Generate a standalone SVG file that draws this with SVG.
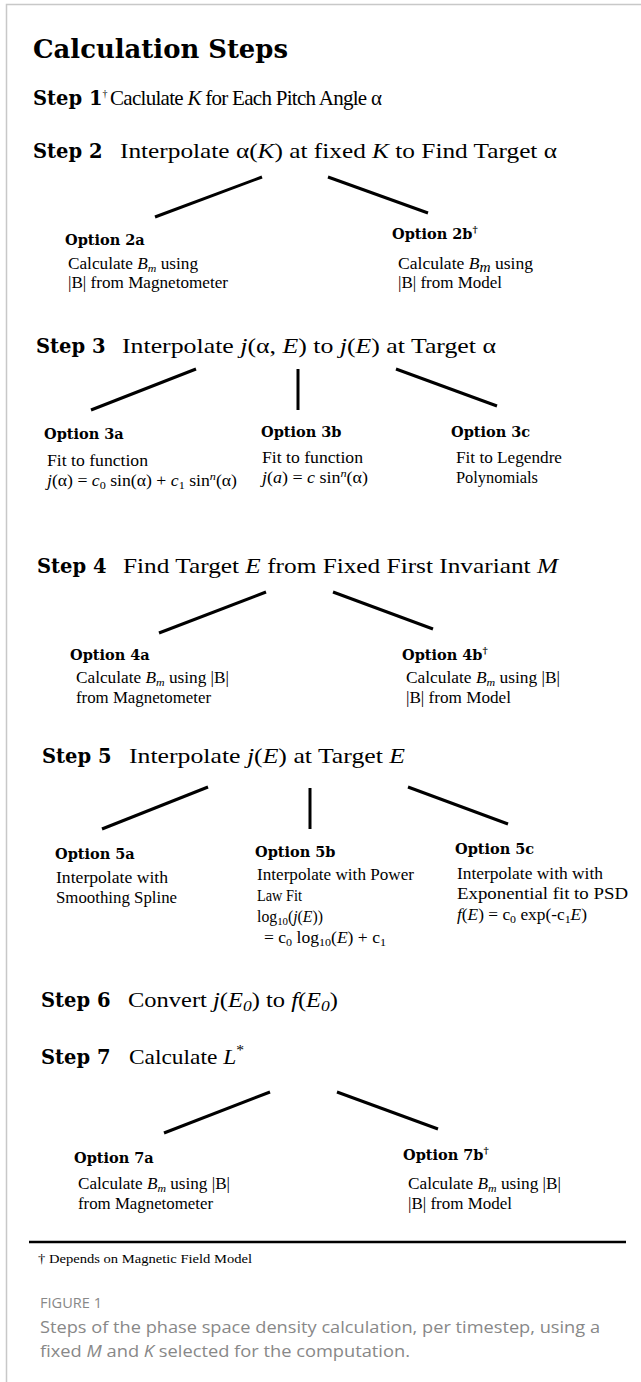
<svg xmlns="http://www.w3.org/2000/svg" width="641" height="1382" viewBox="0 0 641 1382">
<style>
.bg{fill:#fff}
.frame{stroke:#c8c8c8;stroke-width:1.5;fill:none}
.title{font-family:"DejaVu Serif",serif;font-weight:bold;font-size:25.5px;fill:#000}
.lbl{font-family:"DejaVu Serif",serif;font-weight:bold;font-size:19.5px;fill:#000}
.d{font-family:"Liberation Serif",serif;font-size:21px;fill:#000}
.opt{font-family:"DejaVu Serif",serif;font-weight:bold;font-size:14.5px;fill:#000}
.bd{font-family:"Liberation Serif",serif;font-size:16px;fill:#000}
.i{font-style:italic}
.fn{font-family:"Liberation Serif",serif;font-size:13px;fill:#000}
.cap{font-family:"Open Sans",sans-serif;fill:#888}
.conn line{stroke:#000;stroke-width:3}
.rule{stroke:#000;stroke-width:2.5}
</style>
<rect class="bg" x="0" y="0" width="641" height="1382"/>
<path class="frame" d="M6.5,1382 V4.5 H641"/>

<text class="title" x="33" y="58" textLength="255" lengthAdjust="spacingAndGlyphs">Calculation Steps</text>

<g id="step1">
<text class="lbl" x="33" y="105" font-size="17.5">Step 1<tspan font-family="Liberation Serif, serif" font-weight="normal" font-size="10" dy="-8">†</tspan></text>
<text class="d" x="110" y="105" font-size="18.8" textLength="272" lengthAdjust="spacing">Caclulate <tspan class="i">K</tspan> for Each Pitch Angle α</text>
</g>

<g id="step2">
<text class="lbl" x="33" y="158">Step 2</text>
<text class="d" x="120" y="158" textLength="437" lengthAdjust="spacingAndGlyphs">Interpolate α(<tspan class="i">K</tspan>) at fixed <tspan class="i">K</tspan> to Find Target α</text>
</g>

<g id="opt2a">
<text class="opt" x="65" y="245">Option 2a</text>
<text class="bd" x="68" y="269" textLength="130" lengthAdjust="spacingAndGlyphs">Calculate <tspan class="i">B</tspan><tspan class="i" font-size="11" dy="3">m</tspan><tspan dy="-3"> using</tspan></text>
<text class="bd" x="68" y="288" textLength="160" lengthAdjust="spacingAndGlyphs">|B| from Magnetometer</text>
</g>
<g id="opt2b">
<text class="opt" x="392" y="239">Option 2b<tspan font-size="10" dy="-6">†</tspan></text>
<text class="bd" x="398" y="269" textLength="135" lengthAdjust="spacingAndGlyphs">Calculate <tspan class="i">B</tspan><tspan class="i" font-size="14" dy="3">m</tspan><tspan dy="-3"> using</tspan></text>
<text class="bd" x="398" y="288" textLength="104" lengthAdjust="spacingAndGlyphs">|B| from Model</text>
</g>

<g id="step3">
<text class="lbl" x="36" y="353">Step 3</text>
<text class="d" x="122" y="353" textLength="374" lengthAdjust="spacingAndGlyphs">Interpolate <tspan class="i">j</tspan>(α, <tspan class="i">E</tspan>) to <tspan class="i">j</tspan>(<tspan class="i">E</tspan>) at Target α</text>
</g>

<g id="opt3a">
<text class="opt" x="44" y="439">Option 3a</text>
<text class="bd" x="47" y="466" textLength="101" lengthAdjust="spacingAndGlyphs">Fit to function</text>
<text class="bd" x="47" y="486" textLength="190" lengthAdjust="spacingAndGlyphs"><tspan class="i">j</tspan>(α) = <tspan class="i">c</tspan><tspan font-size="11" dy="3">0</tspan><tspan dy="-3"> sin(α) + </tspan><tspan class="i">c</tspan><tspan font-size="11" dy="3">1</tspan><tspan dy="-3"> sin</tspan><tspan class="i" font-size="11" dy="-6">n</tspan><tspan dy="6">(α)</tspan></text>
</g>
<g id="opt3b">
<text class="opt" x="261" y="437">Option 3b</text>
<text class="bd" x="262" y="463" textLength="101" lengthAdjust="spacingAndGlyphs">Fit to function</text>
<text class="bd" x="262" y="483" textLength="106" lengthAdjust="spacingAndGlyphs"><tspan class="i">j</tspan>(<tspan class="i">a</tspan>) = <tspan class="i">c</tspan> sin<tspan class="i" font-size="11" dy="-6">n</tspan><tspan dy="6">(α)</tspan></text>
</g>
<g id="opt3c">
<text class="opt" x="451" y="437">Option 3c</text>
<text class="bd" x="456" y="463" textLength="106" lengthAdjust="spacingAndGlyphs">Fit to Legendre</text>
<text class="bd" x="456" y="483" textLength="82" lengthAdjust="spacingAndGlyphs">Polynomials</text>
</g>

<g id="step4">
<text class="lbl" x="37" y="573">Step 4</text>
<text class="d" x="123" y="573" textLength="435" lengthAdjust="spacingAndGlyphs">Find Target <tspan class="i">E</tspan> from Fixed First Invariant <tspan class="i">M</tspan></text>
</g>

<g id="opt4a">
<text class="opt" x="70" y="660">Option 4a</text>
<text class="bd" x="76" y="683" textLength="153" lengthAdjust="spacingAndGlyphs">Calculate <tspan class="i">B</tspan><tspan class="i" font-size="11" dy="3">m</tspan><tspan dy="-3"> using |B|</tspan></text>
<text class="bd" x="76" y="703" textLength="135" lengthAdjust="spacingAndGlyphs">from Magnetometer</text>
</g>
<g id="opt4b">
<text class="opt" x="402" y="660">Option 4b<tspan font-size="10" dy="-6">†</tspan></text>
<text class="bd" x="406" y="683" textLength="154" lengthAdjust="spacingAndGlyphs">Calculate <tspan class="i">B</tspan><tspan class="i" font-size="11" dy="3">m</tspan><tspan dy="-3"> using |B|</tspan></text>
<text class="bd" x="406" y="703" textLength="105" lengthAdjust="spacingAndGlyphs">|B| from Model</text>
</g>

<g id="step5">
<text class="lbl" x="42" y="763">Step 5</text>
<text class="d" x="129" y="763" textLength="276" lengthAdjust="spacingAndGlyphs">Interpolate <tspan class="i">j</tspan>(<tspan class="i">E</tspan>) at Target <tspan class="i">E</tspan></text>
</g>

<g id="opt5a">
<text class="opt" x="55" y="859">Option 5a</text>
<text class="bd" x="56" y="883" textLength="112" lengthAdjust="spacingAndGlyphs">Interpolate with</text>
<text class="bd" x="56" y="903" textLength="121" lengthAdjust="spacingAndGlyphs">Smoothing Spline</text>
</g>
<g id="opt5b">
<text class="opt" x="255" y="857">Option 5b</text>
<text class="bd" x="257" y="880" textLength="157" lengthAdjust="spacingAndGlyphs">Interpolate with Power</text>
<text class="bd" x="257" y="901" textLength="45" lengthAdjust="spacingAndGlyphs">Law Fit</text>
<text class="bd" x="257" y="922" textLength="66" lengthAdjust="spacingAndGlyphs">log<tspan font-size="11" dy="3">10</tspan><tspan dy="-3">(</tspan><tspan class="i">j</tspan>(<tspan class="i">E</tspan>))</text>
<text class="bd" x="264" y="943" textLength="122" lengthAdjust="spacingAndGlyphs">= c<tspan font-size="11" dy="3">0</tspan><tspan dy="-3"> log</tspan><tspan font-size="11" dy="3">10</tspan><tspan dy="-3">(</tspan><tspan class="i">E</tspan>) + c<tspan font-size="11" dy="3">1</tspan></text>
</g>
<g id="opt5c">
<text class="opt" x="455" y="854">Option 5c</text>
<text class="bd" x="457" y="879" textLength="146" lengthAdjust="spacingAndGlyphs">Interpolate with with</text>
<text class="bd" x="457" y="899" textLength="171" lengthAdjust="spacingAndGlyphs">Exponential fit to PSD</text>
<text class="bd" x="457" y="920" textLength="130" lengthAdjust="spacingAndGlyphs"><tspan class="i">f</tspan>(<tspan class="i">E</tspan>) = c<tspan font-size="11" dy="3">0</tspan><tspan dy="-3"> exp(-c</tspan><tspan font-size="11" dy="3">1</tspan><tspan class="i" dy="-3">E</tspan>)</text>
</g>

<g id="step6">
<text class="lbl" x="41" y="1007">Step 6</text>
<text class="d" x="128" y="1007" textLength="210" lengthAdjust="spacingAndGlyphs">Convert <tspan class="i">j</tspan>(<tspan class="i">E</tspan><tspan class="i" font-size="15" dy="4">0</tspan><tspan dy="-4">) to </tspan><tspan class="i">f</tspan>(<tspan class="i">E</tspan><tspan class="i" font-size="15" dy="4">0</tspan><tspan dy="-4">)</tspan></text>
</g>

<g id="step7">
<text class="lbl" x="41" y="1064">Step 7</text>
<text class="d" x="129" y="1064" textLength="115" lengthAdjust="spacingAndGlyphs">Calculate <tspan class="i">L</tspan><tspan font-size="14" dy="-9">*</tspan></text>
</g>

<g id="opt7a">
<text class="opt" x="74" y="1163">Option 7a</text>
<text class="bd" x="78" y="1189" textLength="152" lengthAdjust="spacingAndGlyphs">Calculate <tspan class="i">B</tspan><tspan class="i" font-size="11" dy="3">m</tspan><tspan dy="-3"> using |B|</tspan></text>
<text class="bd" x="78" y="1209" textLength="135" lengthAdjust="spacingAndGlyphs">from Magnetometer</text>
</g>
<g id="opt7b">
<text class="opt" x="403" y="1160">Option 7b<tspan font-size="10" dy="-6">†</tspan></text>
<text class="bd" x="408" y="1189" textLength="153" lengthAdjust="spacingAndGlyphs">Calculate <tspan class="i">B</tspan><tspan class="i" font-size="11" dy="3">m</tspan><tspan dy="-3"> using |B|</tspan></text>
<text class="bd" x="408" y="1209" textLength="104" lengthAdjust="spacingAndGlyphs">|B| from Model</text>
</g>

<g id="connectors" class="conn">
<line x1="262" y1="177" x2="155" y2="217"/>
<line x1="328" y1="177" x2="428" y2="213"/>
<line x1="196" y1="369" x2="91" y2="410"/>
<line x1="298" y1="369" x2="298" y2="410"/>
<line x1="396" y1="369" x2="497" y2="406"/>
<line x1="266" y1="592" x2="159" y2="633"/>
<line x1="333" y1="592" x2="433" y2="629"/>
<line x1="208" y1="787" x2="102" y2="829"/>
<line x1="310" y1="788" x2="310" y2="829"/>
<line x1="408" y1="787" x2="508" y2="824"/>
<line x1="270" y1="1092" x2="164" y2="1133"/>
<line x1="337" y1="1092" x2="438" y2="1129"/>
</g>

<g id="footer">
<line class="rule" x1="29" y1="1242" x2="626" y2="1242"/>
<text class="fn" x="38" y="1263" textLength="214" lengthAdjust="spacingAndGlyphs">† Depends on Magnetic Field Model</text>
<text class="cap" x="40" y="1308" font-size="14" textLength="62" lengthAdjust="spacingAndGlyphs">FIGURE 1</text>
<text class="cap" x="40" y="1333" font-size="16.5" textLength="560" lengthAdjust="spacingAndGlyphs">Steps of the phase space density calculation, per timestep, using a</text>
<text class="cap" x="40" y="1357" font-size="16.5" textLength="370" lengthAdjust="spacingAndGlyphs">fixed <tspan font-style="italic">M</tspan> and <tspan font-style="italic">K</tspan> selected for the computation.</text>
</g>
</svg>
